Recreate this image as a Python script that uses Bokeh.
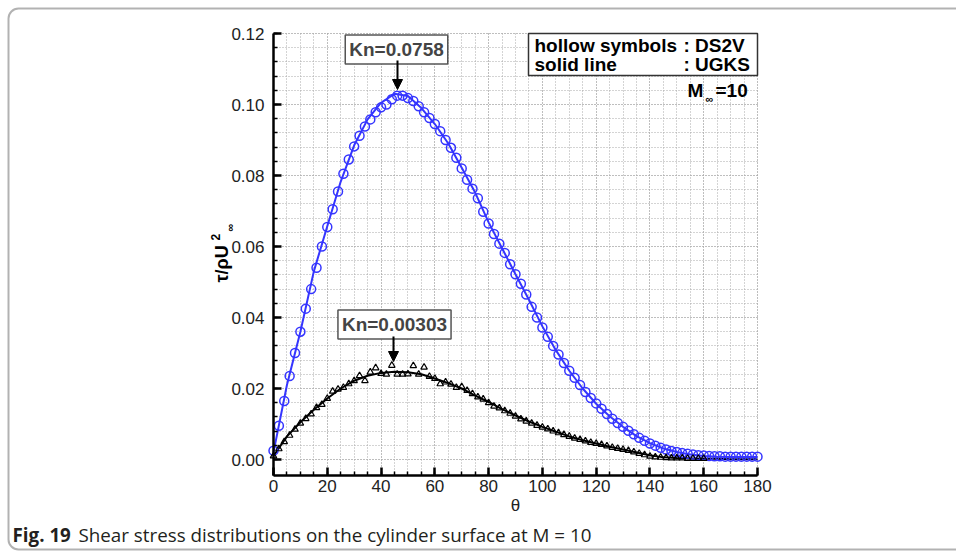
import math
from bokeh.plotting import figure
from bokeh.models import (Label, Arrow, NormalHead, BoxAnnotation, Range1d, LinearAxis,
                          Grid, FixedTicker, PrintfTickFormatter)
from bokeh.embed import file_html
from bokeh.resources import INLINE

# ---------------- data ----------------
x_ticks = [0, 20, 40, 60, 80, 100, 120, 140, 160, 180]
y_ticks = [0.00, 0.02, 0.04, 0.06, 0.08, 0.10, 0.12]

theta_ugks = [0, 5, 10, 15, 20, 25, 30, 35, 40, 45, 50, 55, 60, 65, 70, 75, 80, 85, 90,
              95, 100, 105, 110, 115, 120, 125, 130, 135, 140, 145, 150, 155, 160, 165,
              170, 175, 180]
ugks_kn0758 = [0.0020, 0.0210, 0.0360, 0.0530, 0.0657, 0.0783, 0.0885, 0.0958, 0.1005,
               0.1030, 0.1024, 0.0990, 0.0945, 0.0890, 0.0822, 0.0752, 0.0668, 0.0595,
               0.0522, 0.0450, 0.0375, 0.0308, 0.0250, 0.0200, 0.0157, 0.0122, 0.0092,
               0.0066, 0.0046, 0.0031, 0.0021, 0.0014, 0.0010, 0.0008, 0.0007, 0.0007,
               0.0007]
ugks_kn00303 = [0.0010, 0.0065, 0.0105, 0.0140, 0.0172, 0.0200, 0.0222, 0.0236, 0.0244,
                0.0247, 0.0246, 0.0240, 0.0228, 0.0215, 0.0200, 0.0180, 0.0162, 0.0142,
                0.0124, 0.0107, 0.0092, 0.0078, 0.0065, 0.0054, 0.0045, 0.0036, 0.0028,
                0.0020, 0.0012, 0.0006, 0.0004, 0.0003, 0.0002, 0.0002, 0.0001, 0.0001,
                0.0001]

theta_ds2v_kn0758 = list(range(0, 182, 2))
ds2v_kn0758 = [0.0025, 0.0095, 0.0165, 0.0235, 0.0300, 0.0360, 0.0425, 0.0480, 0.0540,
               0.0600, 0.0655, 0.0705, 0.0755, 0.0805, 0.0845, 0.0882, 0.0912, 0.0938,
               0.0958, 0.0978, 0.0992, 0.1000, 0.1015, 0.1025, 0.1025, 0.1018, 0.1010,
               0.0995, 0.0978, 0.0962, 0.0945, 0.0925, 0.0900, 0.0878, 0.0850, 0.0820,
               0.0788, 0.0763, 0.0736, 0.0698, 0.0665, 0.0635, 0.0608, 0.0582, 0.0550,
               0.0522, 0.0495, 0.0465, 0.0430, 0.0400, 0.0372, 0.0346, 0.0320, 0.0296,
               0.0272, 0.0250, 0.0230, 0.0210, 0.0190, 0.0173, 0.0158, 0.0143, 0.0128,
               0.0115, 0.0103, 0.0092, 0.0081, 0.0071, 0.0061, 0.0053, 0.0045, 0.0039,
               0.0033, 0.0028, 0.0024, 0.0021, 0.0018, 0.0016, 0.0014, 0.0012, 0.0011,
               0.0010, 0.0009, 0.0009, 0.0008, 0.0008, 0.0008, 0.0008, 0.0008, 0.0008,
               0.0008]

theta_ds2v_kn00303 = list(range(0, 162, 2))
ds2v_kn00303 = [0.0010, 0.0030, 0.0050, 0.0068, 0.0085, 0.0102, 0.0115, 0.0128, 0.0146,
                0.0155, 0.0172, 0.0192, 0.0198, 0.0203, 0.0213, 0.0222, 0.0236, 0.0222,
                0.0246, 0.0258, 0.0242, 0.0240, 0.0265, 0.0240, 0.0240, 0.0241, 0.0264,
                0.0240, 0.0260, 0.0234, 0.0228, 0.0213, 0.0218, 0.0212, 0.0203, 0.0205,
                0.0194, 0.0185, 0.0176, 0.0170, 0.0160, 0.0150, 0.0145, 0.0137, 0.0130,
                0.0122, 0.0114, 0.0108, 0.0102, 0.0096, 0.0091, 0.0086, 0.0080, 0.0075,
                0.0070, 0.0065, 0.0060, 0.0056, 0.0052, 0.0048, 0.0045, 0.0042, 0.0038,
                0.0034, 0.0031, 0.0028, 0.0025, 0.0021, 0.0017, 0.0013, 0.0009, 0.0007,
                0.0006, 0.0005, 0.0004, 0.0004, 0.0004, 0.0003, 0.0003, 0.0003, 0.0003]

# ---------------- layout helpers ----------------
W, H = 956, 551
FL, FR, FT, FB = 273, 757, 33, 475       # plot-area edges in page pixels
Y0 = 459                                 # pixel row of tau = 0
PPU_X = (FR - FL) / 180.0
PPU_Y = (Y0 - FT) / 0.12

def dx(cx):
    return (cx - FL) / PPU_X

def dy(cy):
    return (Y0 - cy) / PPU_Y

YMIN = dy(FB)

ARIAL = "Liberation Sans"
CAPF = "Open Sans"

# the frame fills the whole page; axes sit at fixed data locations
p = figure(width=W, height=H, x_range=Range1d(dx(0), dx(W)), y_range=Range1d(dy(H), dy(0)),
           output_backend="svg", toolbar_location=None, x_axis_type=None, y_axis_type=None,
           min_border=0)
p.outline_line_color = None
p.background_fill_color = "white"
p.border_fill_color = "white"

xt = FixedTicker(ticks=x_ticks, minor_ticks=list(range(0, 181, 5)))
yt = FixedTicker(ticks=y_ticks, minor_ticks=[i * 0.004 for i in range(31)])

xg = Grid(dimension=0, ticker=xt, bounds=(0, 180), cross_bounds=(YMIN, 0.12))
yg = Grid(dimension=1, ticker=yt, bounds=(0, 0.12), cross_bounds=(0, 180))
for g in (xg, yg):
    g.grid_line_color = "#a8a8a8"
    g.grid_line_dash = "1 2"
    g.grid_line_width = 1
    g.minor_grid_line_color = "#a8a8a8"
    g.minor_grid_line_dash = "1 2"
    g.minor_grid_line_width = 1
    p.add_layout(g)

xaxis = LinearAxis(ticker=xt, fixed_location=YMIN, bounds=(0, 180))
yaxis = LinearAxis(ticker=yt, fixed_location=0, bounds=(YMIN, 0.12),
                   formatter=PrintfTickFormatter(format="%.2f"))
for ax in (xaxis, yaxis):
    ax.axis_line_color = "black"
    ax.axis_line_width = 2.5
    ax.major_tick_in = 8
    ax.major_tick_out = 0
    ax.major_tick_line_width = 2.5
    ax.major_tick_line_color = "black"
    ax.minor_tick_in = 4
    ax.minor_tick_out = 0
    ax.minor_tick_line_width = 1.5
    ax.minor_tick_line_color = "black"
    ax.major_label_text_font = ARIAL
    ax.major_label_text_font_size = "17px"
    ax.major_label_text_color = "#222222"
xaxis.major_label_standoff = 4
yaxis.major_label_standoff = 9
xaxis.axis_label = "θ"
xaxis.axis_label_text_font = ARIAL
xaxis.axis_label_text_font_size = "17px"
xaxis.axis_label_text_font_style = "normal"
xaxis.axis_label_text_color = "#222222"
xaxis.axis_label_standoff = 1
p.add_layout(xaxis, "below")
p.add_layout(yaxis, "left")

BLUE = "#3535ff"

p.line(theta_ugks, ugks_kn0758, line_color=BLUE, line_width=2)
p.line(theta_ugks, ugks_kn00303, line_color="black", line_width=2)
p.scatter(theta_ds2v_kn0758, ds2v_kn0758, marker="circle", size=9, fill_color=None,
          line_color=BLUE, line_width=1.5)
p.scatter(theta_ds2v_kn00303, ds2v_kn00303, marker="triangle", size=6.5, fill_color=None,
          line_color="black", line_width=1.2)

# ---------------- annotations ----------------
def boxed(text, cx, cy, size):
    p.add_layout(Label(x=dx(cx), y=dy(cy), text=text, text_font=ARIAL,
                       text_font_style="bold", text_font_size=size, text_align="center",
                       text_baseline="middle", border_line_color="#555555",
                       border_line_width=1.5, background_fill_color="white",
                       padding=4))

boxed("Kn=0.0758", 396, 49, "19px")
boxed("Kn=0.00303", 394, 324, "19px")

for ax_, y1, y2 in ((397, 60, 89), (393, 336, 361)):
    p.add_layout(Arrow(end=NormalHead(size=10, fill_color="black", line_color="black"),
                       x_start=dx(ax_), y_start=dy(y1), x_end=dx(ax_), y_end=dy(y2),
                       line_width=2, line_color="black"))

p.add_layout(BoxAnnotation(left=dx(528), right=180, top=0.12, bottom=dy(75),
                           fill_color="white", fill_alpha=1.0, line_color="#333333",
                           line_width=1.5, line_alpha=1.0))

def txt(t, cx, cy, size="19px", style="bold", align="left", font=ARIAL,
        color="black", angle=0.0):
    p.add_layout(Label(x=dx(cx), y=dy(cy), text=t, text_font=font,
                       text_font_size=size, text_font_style=style, text_align=align,
                       text_color=color, angle=angle, text_baseline="middle"))

txt("hollow symbols", 534, 45)
txt(": DS2V", 683, 45)
txt("solid line", 534, 64)
txt(": UGKS", 683, 64)
txt("M", 687, 90)
txt("∞", 705, 98, size="11px")
txt("=10", 715, 90)

# y-axis title (rotated, reads bottom to top)
txt("τ/ρU", 221, 282, size="18px", angle=math.pi / 2)
txt("2", 215, 240, size="12px", angle=math.pi / 2)
txt("∞", 229, 231, size="11px", angle=math.pi / 2)

# caption
txt("Fig. 19", 12, 534, size="18.8px", font=CAPF, color="#231f20")
txt("Shear stress distributions on the cylinder surface at M = 10", 78, 534,
    size="18.8px", style="normal", font=CAPF, color="#231f20")

# rounded page frame
p.add_layout(BoxAnnotation(left=dx(8), right=dx(990), top=dy(8), bottom=dy(549),
                           fill_alpha=0.0, line_color="black", line_width=2,
                           border_radius=10))

open("out.html", "w").write(file_html(p, INLINE))
